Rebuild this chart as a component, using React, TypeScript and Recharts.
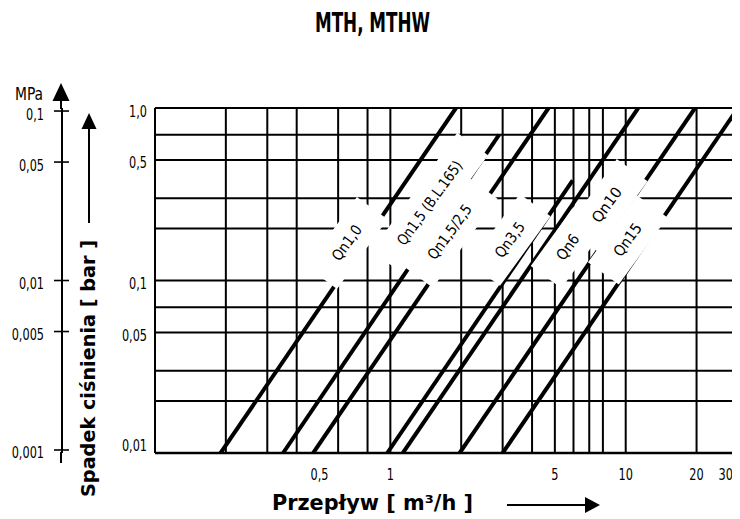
import React from 'react';
import { LineChart, Line, XAxis, YAxis, CartesianGrid, ReferenceDot, Customized } from 'recharts';

const COND = "'DejaVu Sans Condensed','Liberation Sans Narrow','Roboto Condensed','Arial Narrow','DejaVu Sans',sans-serif";
const BOLD = "'DejaVu Sans',Verdana,sans-serif";

// X axis (flow, m3/h)
const xTicks = [0.5, 1, 5, 10, 20, 30];
const xTickLabels = ['0,5', '1', '5', '10', '20', '30'];
const xGridValues = [0.1, 0.2, 0.3, 0.4, 0.5, 0.6, 0.7, 0.8, 0.9, 1, 2, 3, 4, 5, 6, 7, 8, 9, 10, 20, 30];

// Y axis (pressure loss, bar)
const barTicks = [0.01, 0.05, 0.1, 0.5, 1];
const barTickLabels = ['0,01', '0,05', '0,1', '0,5', '1,0'];
const yGridValues = [0.01, 0.02, 0.03, 0.04, 0.05, 0.06, 0.07, 0.08, 0.09, 0.1, 0.2, 0.3, 0.4, 0.5, 0.6, 0.7, 0.8, 0.9, 1];

// Secondary axis (MPa)
const mpaTicks = [0.001, 0.005, 0.01, 0.05, 0.1];
const mpaTickLabels = ['0,001', '0,005', '0,01', '0,05', '0,1'];

// Series (straight lines on log-log paper, start/end points)
const seriesNames = ['Qn1,0', 'Qn1,5 (B.L.165)', 'Qn1,5/2,5', 'Qn3,5', 'Qn6', 'Qn10', 'Qn15'];
const flowStart = [0.19, 0.35, 0.47, 0.97, 1.13, 1.97, 3.0];
const lossStart = [0.01, 0.01, 0.01, 0.01, 0.01, 0.01, 0.01];
const flowEnd = [1.9, 2.9, 4.7, 5.95, 11.3, 19.7, 30];
const lossEnd = [1.0, 0.7, 1.0, 0.38, 1.0, 1.0, 1.0];

// Label anchor points (data coordinates)
const labelFlow = [0.654, 1.47, 1.79, 3.22, 5.68, 8.32, 10.2];
const labelLoss = [0.165, 0.281, 0.191, 0.172, 0.156, 0.274, 0.172];
const labelLength = [40, 100, 64, 40, 28, 40, 37];

const ANGLE = -54;

const charLen = (s: string) => {
  let w = 0;
  for (const c of s) w += c === ',' ? 3.5 : 7.2;
  return w;
};

const XTick = (props: any) => {
  const { x, y, payload } = props;
  const i = xTicks.indexOf(payload.value);
  const last = i === xTicks.length - 1;
  const s = xTickLabels[i];
  return (
    <text x={last ? x + 1 : x} y={y + 27} textAnchor={last ? 'end' : 'middle'} fontFamily={COND} fontSize={16} fill="#000"
      textLength={charLen(s)} lengthAdjust="spacingAndGlyphs">
      {s}
    </text>
  );
};

const BarTick = (props: any) => {
  const { x, y, payload } = props;
  const i = barTicks.indexOf(payload.value);
  const dy = i === 0 ? -8 : 3;
  const s = barTickLabels[i];
  return (
    <text x={x} y={y + dy} dominantBaseline="central" textAnchor="end" fontFamily={COND} fontSize={16} fill="#000"
      textLength={charLen(s)} lengthAdjust="spacingAndGlyphs">
      {s}
    </text>
  );
};

const MpaTick = (props: any) => {
  const { x, y, payload } = props;
  const i = mpaTicks.indexOf(payload.value);
  const s = mpaTickLabels[i];
  return (
    <g>
      <line x1={x - 8} x2={x + 7} y1={y} y2={y} stroke="#000" strokeWidth={1.6} />
      <text x={x - 18} y={y + 3} dominantBaseline="central" textAnchor="end" fontFamily={COND} fontSize={16} fill="#000"
        textLength={charLen(s)} lengthAdjust="spacingAndGlyphs">
        {s}
      </text>
    </g>
  );
};

const makePatch = (i: number) => (props: any) => {
  const { cx, cy } = props;
  const w = labelLength[i] + 46;
  const h = 38;
  return (
    <rect x={cx - w / 2} y={cy - h / 2} width={w} height={h} fill="#fff" transform={`rotate(${ANGLE} ${cx} ${cy})`} />
  );
};

const makeText = (i: number) => (props: any) => {
  const { cx, cy } = props;
  return (
    <text x={cx} y={cy} textAnchor="middle" dominantBaseline="central" fontFamily={COND} fontSize={15}
      textLength={labelLength[i]} lengthAdjust="spacingAndGlyphs" fill="#000"
      transform={`rotate(${ANGLE} ${cx} ${cy})`}>
      {seriesNames[i]}
    </text>
  );
};

const Decor = () => (
  <g>
    <text x={364.5} y={24} textAnchor="middle" fontFamily={COND} fontWeight="bold" fontSize={27}
      textLength={115} lengthAdjust="spacingAndGlyphs" fill="#000">MTH, MTHW</text>
    {/* MPa axis extension */}
    <line x1={53} x2={53} y1={90} y2={101} stroke="#000" strokeWidth={2} />
    <line x1={53} x2={53} y1={444} y2={455} stroke="#000" strokeWidth={2} />
    <polygon points="53,75 44.5,93 61.5,93" fill="#000" />
    <text x={7} y={92} fontFamily={COND} fontSize={18} textLength={28} lengthAdjust="spacingAndGlyphs" fill="#000">MPa</text>
    {/* left title */}
    <text x={87} y={360.5} textAnchor="middle" fontFamily={BOLD} fontWeight="bold" fontSize={20}
      textLength={257} lengthAdjust="spacingAndGlyphs" fill="#000" transform="rotate(-90 87 360.5)">
      Spadek ciśnienia [ bar ]
    </text>
    <line x1={81} x2={81} y1={215} y2={118} stroke="#000" strokeWidth={2} />
    <polygon points="81,105 73.5,121 88.5,121" fill="#000" />
    {/* bottom title */}
    <text x={264} y={502} fontFamily={BOLD} fontWeight="bold" fontSize={20.5}
      textLength={201} lengthAdjust="spacingAndGlyphs" fill="#000">Przepływ [ m³/h ]</text>
    <line x1={499} x2={580} y1={497} y2={497} stroke="#000" strokeWidth={2} />
    <polygon points="592,497 577,489 577,505" fill="#000" />
  </g>
);

export default function App() {
  return (
    <LineChart width={732} height={511} margin={{ top: 100, right: 2, bottom: 36, left: 0 }}>
      <CartesianGrid yAxisId="bar" horizontalValues={yGridValues} verticalValues={xGridValues} stroke="#000" strokeWidth={2} fill="#fff" />
      <XAxis dataKey="q" type="number" scale="log" domain={[0.1, 30]} allowDataOverflow ticks={xTicks}
        tick={<XTick />} tickLine={false} tickSize={0} tickMargin={0} height={30}
        axisLine={{ stroke: '#000', strokeWidth: 2.5 }} />
      <YAxis yAxisId="bar" type="number" scale="log" domain={[0.01, 1]} allowDataOverflow ticks={barTicks}
        tick={<BarTick />} tickLine={false} tickSize={0} tickMargin={8} width={93} axisLine={false} />
      <YAxis yAxisId="mpa" type="number" scale="log" domain={[0.00096, 0.1042]} allowDataOverflow ticks={mpaTicks}
        tick={<MpaTick />} tickLine={false} tickSize={0} tickMargin={0} width={54}
        axisLine={{ stroke: '#000', strokeWidth: 2 }} />
      {seriesNames.map((n, i) => (
        <ReferenceDot key={'p' + n} yAxisId="bar" x={labelFlow[i]} y={labelLoss[i]} ifOverflow="visible" shape={makePatch(i)} />
      ))}
      {seriesNames.map((n, i) => (
        <Line key={n} name={n} yAxisId="bar" data={[{ q: flowStart[i], p: lossStart[i] }, { q: flowEnd[i], p: lossEnd[i] }]}
          dataKey="p" stroke="#000" strokeWidth={4} dot={false} activeDot={false} isAnimationActive={false} />
      ))}
      {seriesNames.map((n, i) => (
        <ReferenceDot key={'t' + n} yAxisId="bar" x={labelFlow[i]} y={labelLoss[i]} ifOverflow="visible" shape={makeText(i)} />
      ))}
      <Customized component={<Decor />} />
    </LineChart>
  );
}
